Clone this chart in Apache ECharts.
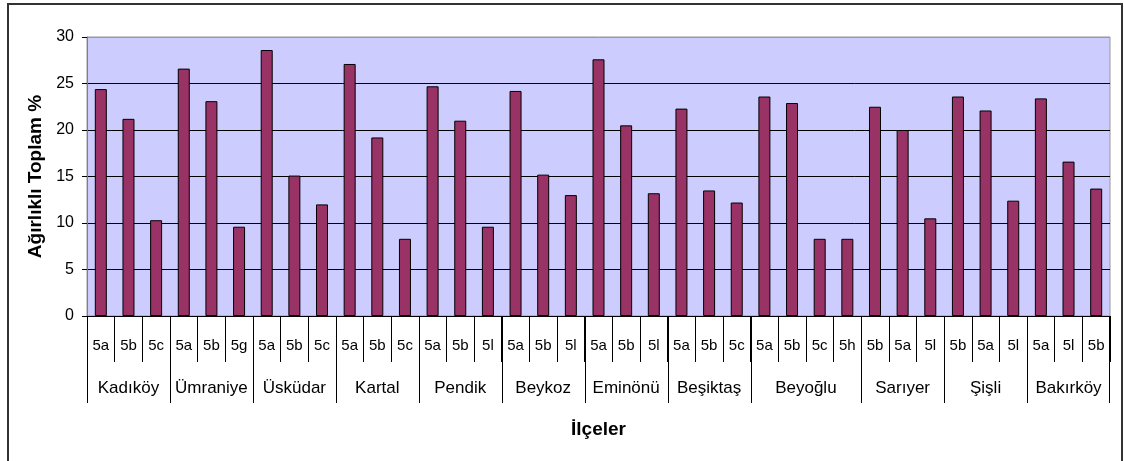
<!DOCTYPE html>
<html>
<head>
<meta charset="utf-8">
<script src="https://cdn.jsdelivr.net/npm/echarts@6/dist/echarts.min.js"></script>
<style>
html,body{margin:0;padding:0;background:#fff;}
#chart{width:1124px;height:461px;position:absolute;left:0;top:0;}
#frame{position:absolute;left:7px;top:3px;width:1116px;height:480px;border:2px solid #333;box-sizing:border-box;pointer-events:none;}
</style>
</head>
<body>
<div id="chart"></div>
<div id="frame"></div>
<script>
// Sub-category labels (one per bar)
const subLabels = ['5a','5b','5c','5a','5b','5g','5a','5b','5c','5a','5b','5c','5a','5b','5l','5a','5b','5l','5a','5b','5l','5a','5b','5c','5a','5b','5c','5h','5b','5a','5l','5b','5a','5l','5a','5l','5b'];
// District groups
const groupNames = ['Kadıköy','Ümraniye','Üsküdar','Kartal','Pendik','Beykoz','Eminönü','Beşiktaş','Beyoğlu','Sarıyer','Şişli','Bakırköy'];
const groupSizes = [3,3,3,3,3,3,3,3,4,3,3,3];
// Values (Ağırlıklı Toplam %)
const values = [24.4,21.2,10.3,26.6,23.1,9.6,28.6,15.1,12.0,27.1,19.2,8.3,24.7,21.0,9.6,24.2,15.2,13.0,27.6,20.5,13.2,22.3,13.5,12.2,23.6,22.9,8.3,8.3,22.5,20.0,10.5,23.6,22.1,12.4,23.4,16.6,13.7];
const yTicks = [0,5,10,15,20,25,30];

const FONT = 'Arial, "Liberation Sans", sans-serif';

// group spans built from sizes
const groupData = [];
let start = 0;
groupSizes.forEach((n, i) => {
  groupData.push({value: [start, start + n - 1, 0], name: groupNames[i]});
  start += n;
});

const chart = echarts.init(document.getElementById('chart'), null, {renderer: 'canvas'});
chart.setOption({
  animation: false,
  backgroundColor: '#fff',
  grid: {left: 87, right: 14, top: 37, bottom: 145, show: true, backgroundColor: '#CCCCFF', borderColor: '#999', borderWidth: 1},
  xAxis: {
    type: 'category',
    data: subLabels,
    boundaryGap: true,
    name: 'İlçeler',
    nameLocation: 'middle',
    nameGap: 104,
    nameTextStyle: {fontFamily: FONT, fontSize: 19, fontWeight: 'bold', color: '#000'},
    axisLine: {lineStyle: {color: '#000', width: 1}},
    axisTick: {show: true, alignWithLabel: false, interval: 0, length: 46, lineStyle: {color: '#000'}},
    axisLabel: {interval: 0, margin: 22, fontFamily: FONT, fontSize: 15, color: '#000'},
    splitLine: {show: false}
  },
  yAxis: {
    type: 'value',
    min: 0, max: 30, interval: 5,
    name: 'Ağırlıklı Toplam %',
    nameLocation: 'middle',
    nameGap: 40,
    nameRotate: 90,
    nameTextStyle: {fontFamily: FONT, fontSize: 19, fontWeight: 'bold', color: '#000'},
    axisLine: {show: true, lineStyle: {color: '#808080'}},
    axisTick: {show: true, length: 5, lineStyle: {color: '#000'}},
    axisLabel: {margin: 13, fontFamily: FONT, fontSize: 16, color: '#000',
      formatter: v => yTicks.includes(v) ? String(v) : ''},
    splitLine: {show: true, lineStyle: {color: ['#000','#000','#000','#000','#000','#000','#999'], width: 1}}
  },
  series: [
    {
      type: 'bar',
      data: values,
      barWidth: 12,
      itemStyle: {color: '#993366', borderColor: '#000', borderWidth: 1},
      z: 3
    },
    {
      type: 'custom',
      data: groupData,
      encode: {x: 0, y: 2},
      clip: false,
      silent: true,
      z: 4,
      renderItem: function (params, api) {
        const s = api.value(0), e = api.value(1);
        const w = api.size([1, 0])[0];
        const p0 = api.coord([s, 0]);
        const p1 = api.coord([e, 0]);
        const x0 = p0[0] - w / 2, x1 = p1[0] + w / 2, y = p0[1];
        const children = [
          {type: 'line', shape: {x1: Math.round(x0) + 0.5, y1: y, x2: Math.round(x0) + 0.5, y2: y + 87}, style: {stroke: '#000', lineWidth: 1}},
          {type: 'text', style: {text: groupNames[params.dataIndex], x: (x0 + x1) / 2, y: y + 72, align: 'center', verticalAlign: 'middle', font: '17px ' + FONT, fill: '#000'}}
        ];
        if (params.dataIndex === groupNames.length - 1) {
          children.push({type: 'line', shape: {x1: Math.round(x1) - 0.5, y1: y, x2: Math.round(x1) - 0.5, y2: y + 87}, style: {stroke: '#000', lineWidth: 1}});
        }
        return {type: 'group', children: children};
      }
    }
  ]
});
</script>
</body>
</html>
